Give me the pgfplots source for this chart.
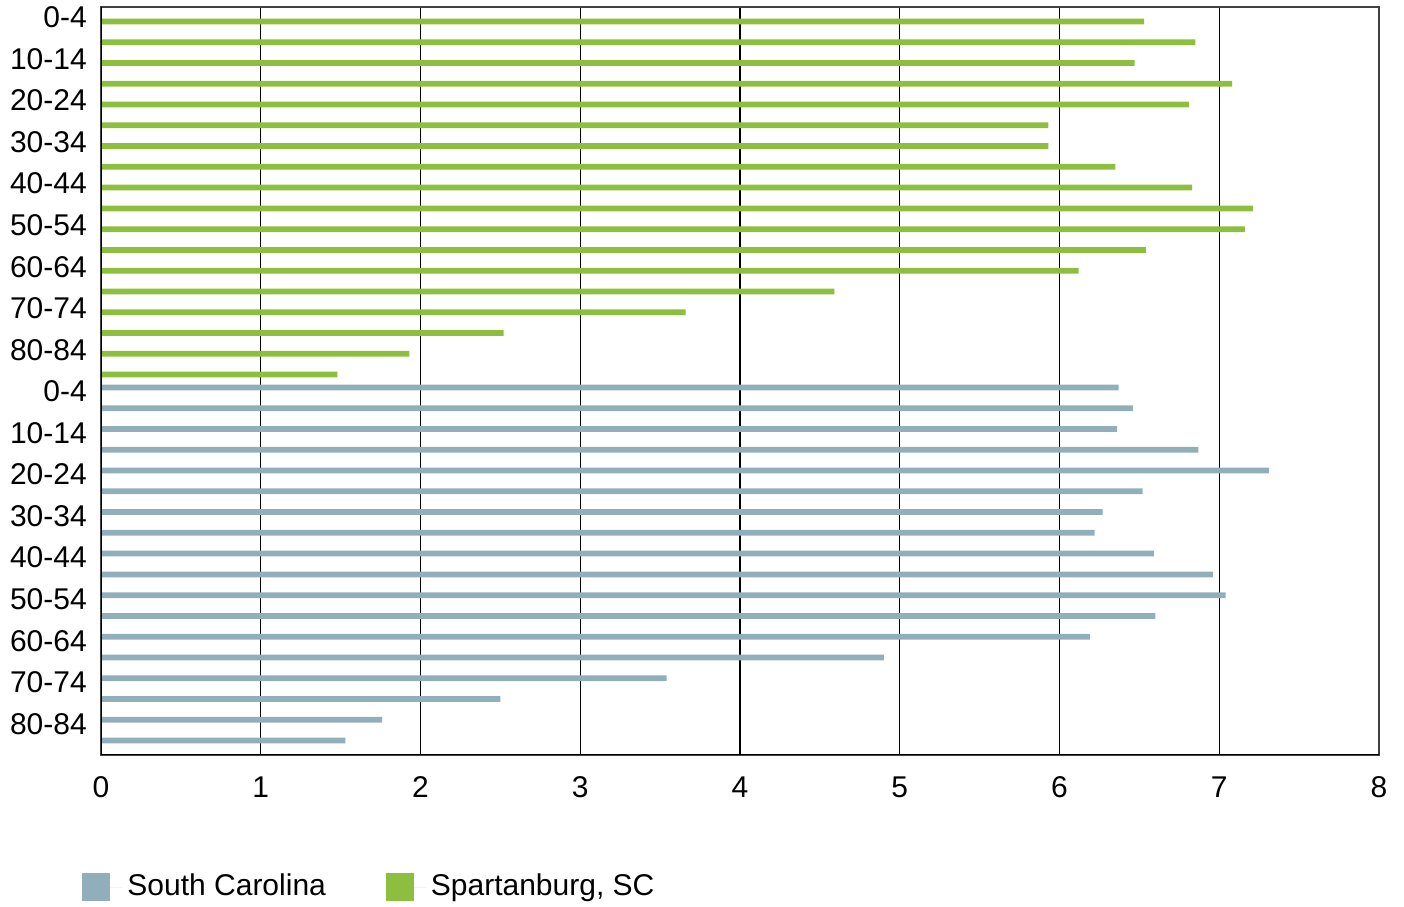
\documentclass[border=0pt]{standalone}
\usepackage{fontspec}
\setmainfont{Liberation Sans}
\usepackage{pgfplots}
\pgfplotsset{compat=1.18}
\definecolor{scblue}{HTML}{91AFBA}
\definecolor{spgreen}{HTML}{8DBF3F}
\begin{document}
\fontsize{12}{14}\selectfont
\begin{tikzpicture}
\begin{axis}[
  width=511.2pt, height=299.2pt, scale only axis,
  xmin=0, xmax=8, ymin=-0.5, ymax=35.5,
  xtick={0,1,...,8}, ytick={1,3,...,35},
  yticklabels={80-84,70-74,60-64,50-54,40-44,30-34,20-24,10-14,0-4,80-84,70-74,60-64,50-54,40-44,30-34,20-24,10-14,0-4},
  major tick length=0pt,
  xmajorgrids, grid style={black, line width=0.45pt},
  axis line style={draw=black!75, line width=0.6pt},
  /pgf/number format/assume math mode=true,
  tick label style={font=\fontsize{12}{14}\selectfont},
  xticklabel style={yshift=-4.4pt},
  yticklabel style={xshift=-1.5pt},
  xbar, bar width=2.3pt,
  legend style={at={(-0.0149,-0.1765)}, anchor=west, draw=none, fill=none, inner sep=0pt,
    legend columns=2, font=\fontsize{12}{14}\selectfont,
    /tikz/every even column/.append style={column sep=22pt}},
  legend cell align=left,
  legend image code/.code={\fill[#1] (0pt,-5.6pt) rectangle (11.2pt,5.6pt); \path (0pt,0pt) -- (16pt,0pt);},
]
\addplot[fill=scblue, draw=none, bar shift=1.6pt] coordinates {
 (6.37,17) (6.46,16) (6.36,15) (6.87,14) (7.31,13) (6.52,12) (6.27,11) (6.22,10) (6.59,9)
 (6.96,8) (7.04,7) (6.60,6) (6.19,5) (4.90,4) (3.54,3) (2.50,2) (1.76,1) (1.53,0)};
\addlegendentry{South Carolina}
\addplot[fill=spgreen, draw=none, bar shift=-1.6pt] coordinates {
 (6.53,35) (6.85,34) (6.47,33) (7.08,32) (6.81,31) (5.93,30) (5.93,29) (6.35,28) (6.83,27)
 (7.21,26) (7.16,25) (6.54,24) (6.12,23) (4.59,22) (3.66,21) (2.52,20) (1.93,19) (1.48,18)};
\addlegendentry{Spartanburg, SC}
\draw[black, line width=1.1pt] (rel axis cs:0,1) -- (rel axis cs:0,0) -- (rel axis cs:1,0);
\end{axis}
\pgfresetboundingbox
\path[use as bounding box] (-40.4pt,-60.8pt) rectangle (521.2pt,302pt);
\end{tikzpicture}
\end{document}
